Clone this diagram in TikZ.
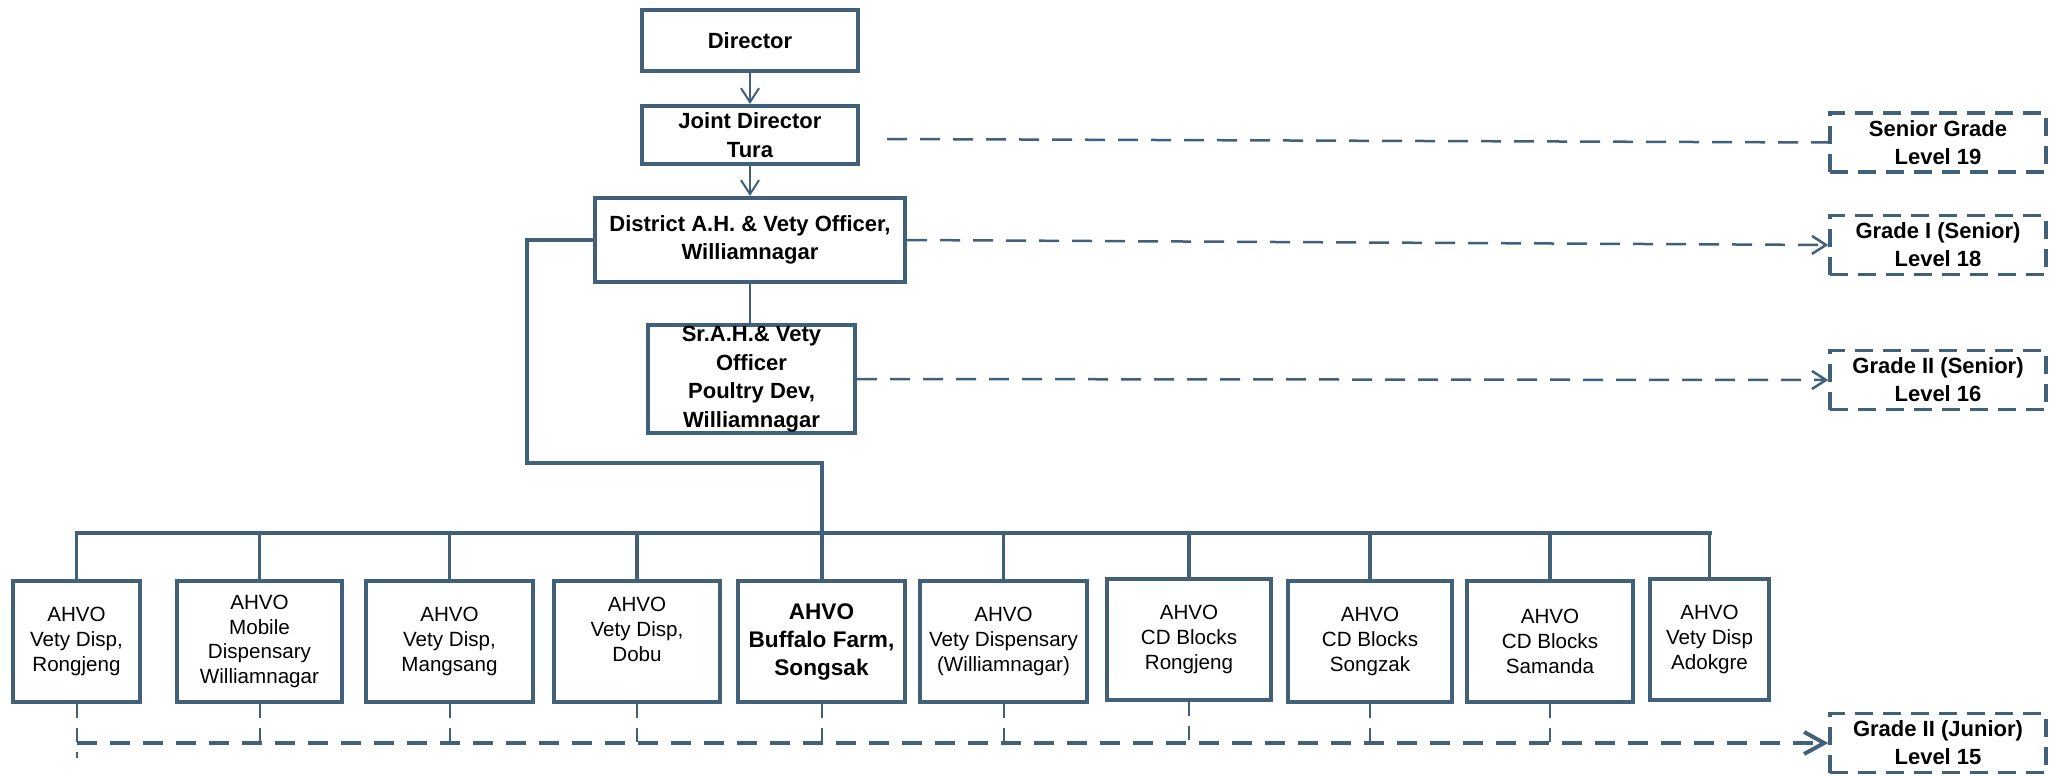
\documentclass[tikz,border=0pt]{standalone}
\usepackage{fontspec}
\setmainfont{Liberation Sans}
\usetikzlibrary{arrows.meta}
\definecolor{edge}{RGB}{65,96,122}
\begin{document}
\begin{tikzpicture}[x=0.5pt,y=-0.5pt,
  topbox/.style={draw=edge, line width=2pt, fill=white, inner sep=0pt, align=center,
    font=\bfseries\fontsize{11}{14.25}\selectfont},
  lowbox/.style={draw=edge, line width=2pt, fill=white, inner sep=0pt, minimum height=60.5pt,
    align=center, font=\fontsize{10.3}{12.3}\selectfont},
  boldlow/.style={font=\bfseries\fontsize{11.3}{14}\selectfont},
  gradebox/.style={draw=edge, line width=1.75pt, dash pattern=on 9pt off 5pt, inner sep=0pt,
    minimum width=108pt, minimum height=29.5pt, align=center,
    font=\bfseries\fontsize{11}{14}\selectfont},
  thinline/.style={draw=edge, line width=1pt},
  busline/.style={draw=edge, line width=2pt},
  dropline/.style={draw=edge, line width=1.75pt},
  dashline/.style={draw=edge, line width=1.25pt, dash pattern=on 10pt off 6.5pt},
  dashthick/.style={draw=edge, line width=2pt, dash pattern=on 10pt off 6.5pt},
  dashdrop/.style={draw=edge, line width=1pt, dash pattern=on 7pt off 5pt},
  openarrow/.style={-{Straight Barb[length=7pt,width=9pt]}},
  bigarrow/.style={-{Straight Barb[length=10pt,width=11pt]}}
]
\useasboundingbox (0,0) rectangle (2062,776);

% top chain
\node[topbox, minimum width=108pt, minimum height=30.5pt] (dir) at (750,40.5) {Director};
\node[topbox, minimum width=108pt, minimum height=29pt] (jd) at (750,135) {Joint Director\\Tura};
\node[topbox, minimum width=155pt, minimum height=42pt] (dist) at (750,240) {District A.H. \& Vety Officer,\\Williamnagar};
\node[topbox, minimum width=103.5pt, minimum height=54pt] (sr) at (751.5,379) {Sr.A.H.\& Vety\\Officer\\Poultry Dev,\\Williamnagar};

% grade boxes
\node[gradebox] (sg) at (1938,142.5) {Senior Grade\\Level 19};
\node[gradebox] (g1) at (1938,245) {Grade I (Senior)\\Level 18};
\node[gradebox] (g2) at (1938,380) {Grade II (Senior)\\Level 16};
\node[gradebox] (gj) at (1938,743) {Grade II (Junior)\\Level 15};

% bottom boxes
\node[lowbox, minimum width=63.5pt] (b1) at (76.5,641.5) {AHVO\\Vety Disp,\\Rongjeng};
\node[lowbox, minimum width=82.5pt] (b2) at (259.5,641.5) {AHVO\\Mobile\\Dispensary\\Williamnagar};
\node[lowbox, minimum width=83.5pt] (b3) at (449.5,641.5) {AHVO\\Vety Disp,\\Mangsang};
\node[lowbox, minimum width=83pt] (b4) at (637,641.5) {AHVO\\Vety Disp,\\Dobu\\\mbox{}};
\node[lowbox, boldlow, minimum width=83.5pt] (b5) at (821.5,641.5) {AHVO\\Buffalo Farm,\\Songsak};
\node[lowbox, minimum width=83.5pt] (b6) at (1003.5,641.5) {AHVO\\Vety Dispensary\\(Williamnagar)};
\node[lowbox, minimum width=82pt] (b7) at (1189,639.5) {AHVO\\CD Blocks\\Rongjeng};
\node[lowbox, minimum width=82pt] (b8) at (1370,641.5) {AHVO\\CD Blocks\\Songzak};
\node[lowbox, minimum width=83pt] (b9) at (1550,641.5) {AHVO\\CD Blocks\\Samanda};
\node[lowbox, minimum width=59.5pt] (b10) at (1709.5,639.5) {AHVO\\Vety Disp\\Adokgre};

% top connectors
\draw[thinline, openarrow] (dir.south) -- (jd.north);
\draw[thinline, openarrow] (jd.south) -- (dist.north);
\draw[thinline] (dist.south) -- (dist.south |- sr.north);

% loop to bus
\coordinate (busy) at (0,533);
\coordinate (lp) at (527,463);
\draw[busline] (dist.west) -| (lp) -| (b5.north);

% bus
\foreach \i in {1,...,10} {\coordinate (t\i) at (b\i.north |- busy);}
\draw[busline, line cap=rect] (t1) -- (t10);
\foreach \i in {1,2,3,4,6,7,8,9,10} {\draw[dropline] (t\i) -- (b\i.north);}

% grade connectors
\coordinate (sgs) at (887,139);
\draw[dashline] (sgs) -- (sg.west);
\draw[dashline, openarrow] (dist.east) -- (g1.west);
\draw[dashline, openarrow] (sr.east) -- (g2.west);

% junior grade line
\coordinate (jl) at (b1.south |- gj.west);
\draw[dashthick, bigarrow] (jl) -- (gj.west);
\draw[dashdrop] (b1.south) -- (jl) -- ++(0,15);
\foreach \i in {2,...,9} {\draw[dashdrop] (b\i.south) -- (b\i.south |- jl);}
\end{tikzpicture}
\end{document}
